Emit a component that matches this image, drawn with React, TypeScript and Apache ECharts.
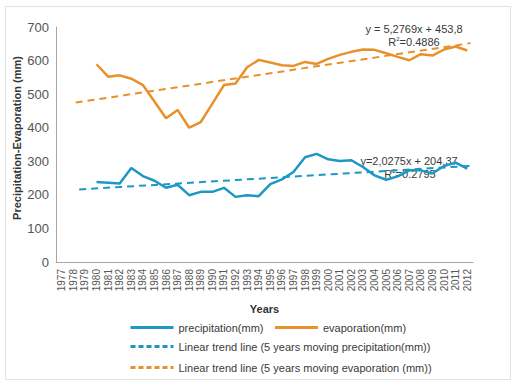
import React, { useEffect, useRef } from "react";
import * as echarts from "echarts";

const years = [
  "1977", "1978", "1979", "1980", "1981", "1982", "1983", "1984", "1985", "1986",
  "1987", "1988", "1989", "1990", "1991", "1992", "1993", "1994", "1995", "1996",
  "1997", "1998", "1999", "2000", "2001", "2002", "2003", "2004", "2005", "2006",
  "2007", "2008", "2009", "2010", "2011", "2012",
];

// 1977-1979 have no values
const precipitation = [
  null, null, null, 238, 236, 234, 280, 256, 242, 221,
  230, 199, 209, 209, 221, 194, 199, 196, 232, 246,
  268, 312, 322, 306, 301, 303, 283, 258, 245, 255,
  273, 273, 264, 286, 296, 278,
];

const evaporation = [
  null, null, null, 589, 552, 556, 546, 527, 478, 428,
  453, 400, 417, 472, 527, 532, 580, 602, 594, 586,
  584, 596, 590, 605, 617, 626, 633, 632, 622, 611,
  601, 619, 615, 633, 642, 630,
];

// trend line end points [year, value]
const precipTrend = [
  [1978.5, 216],
  [2012.6, 287],
];
const evapTrend = [
  [1978.2, 475],
  [2012.3, 652],
];

const yTicks = { min: 0, max: 700, interval: 100 };

const names = {
  p: "precipitation(mm)",
  e: "evaporation(mm)",
  pt: "Linear trend line (5 years moving precipitation(mm))",
  et: "Linear trend line (5 years moving evaporation (mm))",
};

const BLUE = "#1D97C4";
const ORANGE = "#E8912C";
const FONT = "'Liberation Sans', Arial, sans-serif";
const TEXT = "#3A3A3A";

export default function App() {
  const ref = useRef<HTMLDivElement>(null);

  useEffect(() => {
    if (!ref.current) return;
    const chart = echarts.init(ref.current, null, { renderer: "svg" });
    const legendBase = {
      orient: "horizontal",
      itemWidth: 43,
      itemHeight: 14,
      itemGap: 10,
      itemStyle: { opacity: 0, borderWidth: 0 },
      textStyle: { fontSize: 11, color: TEXT, fontFamily: FONT },
    };
    chart.setOption({
      animation: false,
      backgroundColor: "#fff",
      textStyle: { fontFamily: FONT },
      grid: { left: 56, right: 40, top: 27, bottom: 120, containLabel: false },
      xAxis: [
        {
          type: "category",
          data: years,
          boundaryGap: true,
          name: "Years",
          nameLocation: "middle",
          nameGap: 41,
          nameTextStyle: { fontSize: 11, fontWeight: "bold", color: "#333", fontFamily: FONT },
          axisLine: { lineStyle: { color: "#A6A6A6", width: 1 } },
          axisTick: { show: false },
          axisLabel: { rotate: 90, interval: 0, fontSize: 10, color: "#555", margin: 7, fontFamily: FONT },
          splitLine: { show: false },
        },
        {
          type: "value",
          min: 1976.5,
          max: 2012.5,
          show: false,
          position: "bottom",
          splitLine: { show: false },
        },
      ],
      yAxis: {
        type: "value",
        min: yTicks.min,
        max: yTicks.max,
        interval: yTicks.interval,
        axisLine: { show: true, lineStyle: { color: "#A6A6A6", width: 1 } },
        axisTick: { show: false },
        splitLine: { show: false },
        axisLabel: { fontSize: 13, color: "#555", margin: 7, fontFamily: FONT },
      },
      legend: [
        { ...legendBase, left: 124, top: 317, lineStyle: { width: 3 }, data: [names.p, names.e] },
        { ...legendBase, left: 124, top: 336, lineStyle: { width: 3, type: [5, 3] }, data: [names.pt] },
        { ...legendBase, left: 124, top: 357, lineStyle: { width: 3, type: [5, 3] }, data: [names.et] },
      ],
      series: [
        {
          name: names.p,
          type: "line",
          data: precipitation,
          symbol: "none",
          lineStyle: { color: BLUE, width: 2.5 },
          itemStyle: { color: BLUE },
        },
        {
          name: names.e,
          type: "line",
          data: evaporation,
          symbol: "none",
          lineStyle: { color: ORANGE, width: 2.5 },
          itemStyle: { color: ORANGE },
        },
        {
          name: names.pt,
          type: "line",
          xAxisIndex: 1,
          data: precipTrend,
          symbol: "none",
          lineStyle: { color: BLUE, width: 2, type: [7, 5] },
          itemStyle: { color: BLUE },
        },
        {
          name: names.et,
          type: "line",
          xAxisIndex: 1,
          data: evapTrend,
          symbol: "none",
          lineStyle: { color: ORANGE, width: 2, type: [7, 5] },
          itemStyle: { color: ORANGE },
        },
      ],
      graphic: [
        {
          type: "rect",
          left: 3,
          top: 4,
          shape: { width: 505, height: 373 },
          style: { fill: "none", stroke: "#E2E2E2", lineWidth: 1 },
          silent: true,
        },
        {
          type: "text",
          x: 17,
          y: 138,
          rotation: Math.PI / 2,
          style: {
            text: "Precipitation-Evaporation (mm)",
            font: `bold 11px ${FONT}`,
            fill: "#333",
            align: "center",
            verticalAlign: "middle",
          },
        },
        {
          type: "text",
          x: 414,
          y: 29,
          style: { text: "y = 5,2769x + 453,8", font: `11px ${FONT}`, fill: TEXT, align: "center", verticalAlign: "middle" },
        },
        {
          type: "text",
          x: 414,
          y: 42,
          style: {
            text: "R{s|2}=0.4886",
            font: `11px ${FONT}`,
            fill: TEXT,
            align: "center",
            verticalAlign: "middle",
            rich: { s: { fontSize: 6, verticalAlign: "top", fill: TEXT, padding: [0, 0, 6, 0] } },
          },
        },
        {
          type: "text",
          x: 409,
          y: 161,
          style: { text: "y=2,0275x + 204,37", font: `11px ${FONT}`, fill: TEXT, align: "center", verticalAlign: "middle" },
        },
        {
          type: "text",
          x: 410,
          y: 174,
          style: {
            text: "R{s|2}=0.2795",
            font: `11px ${FONT}`,
            fill: TEXT,
            align: "center",
            verticalAlign: "middle",
            rich: { s: { fontSize: 6, verticalAlign: "top", fill: TEXT, padding: [0, 0, 6, 0] } },
          },
        },
      ],
    });
    return () => chart.dispose();
  }, []);

  return (
    <div
      ref={ref}
      style={{ position: "fixed", left: 0, top: 0, width: 513, height: 382, background: "#fff" }}
    />
  );
}
